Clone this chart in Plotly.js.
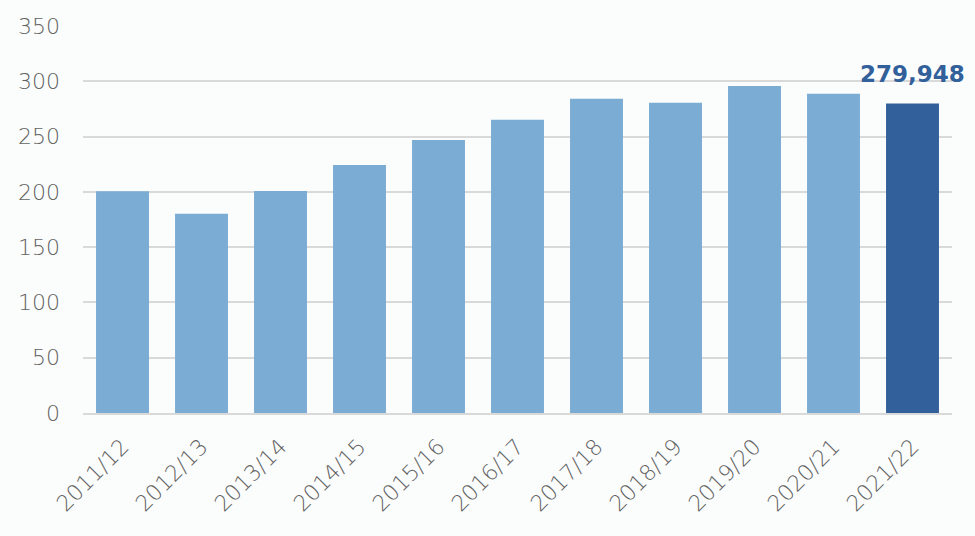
<!DOCTYPE html>
<html>
<head>
<meta charset="utf-8">
<script src="https://cdn.plot.ly/plotly-3.0.1.min.js"></script>
<style>html,body{margin:0;padding:0;background:#fbfdfd;overflow:hidden;}#chart{width:975px;height:536px;}</style>
</head>
<body>
<div id="chart"></div>
<script>
var categories = ["2011/12","2012/13","2013/14","2014/15","2015/16","2016/17","2017/18","2018/19","2019/20","2020/21","2021/22"];
var values = [200.6, 180.2, 200.8, 224.3, 247.0, 265.2, 284.3, 280.6, 295.8, 288.8, 279.948];
var highlightLabel = "279,948";
var yTicks = [0, 50, 100, 150, 200, 250, 300, 350];

var lightBlue = "#7aacd4", darkBlue = "#31609a";
var colors = categories.map(function(c, i){ return i === categories.length - 1 ? darkBlue : lightBlue; });
var last = categories.length - 1;

var trace = {
  type: "bar",
  x: categories,
  y: values,
  marker: {color: colors},
  hoverinfo: "x+y"
};

var tickFont = {family: "DejaVu Sans, sans-serif", size: 22, color: "#626262", weight: 200};

var layout = {
  width: 975, height: 536,
  margin: {l: 83, r: 23, t: 26, b: 123, pad: 0},
  paper_bgcolor: "#fbfdfd",
  plot_bgcolor: "#fbfdfd",
  bargap: 0.33,
  showlegend: false,
  font: {family: "DejaVu Sans, sans-serif", color: "#626262", size: 22},
  xaxis: {
    type: "category",
    automargin: false,
    range: [-0.5, categories.length - 0.5],
    tickangle: -45,
    showgrid: false,
    showline: true,
    linecolor: "#d9d9d9",
    linewidth: 2,
    ticks: "",
    ticklabelstandoff: 10,
    tickfont: tickFont
  },
  yaxis: {
    automargin: false,
    range: [0, 350],
    tickvals: yTicks,
    showgrid: true,
    gridcolor: "#d9d9d9",
    gridwidth: 2,
    zeroline: false,
    showline: false,
    ticks: "",
    ticklabelstandoff: 22,
    tickfont: tickFont
  },
  annotations: [{
    x: categories[last], y: values[last],
    xref: "x", yref: "y",
    text: highlightLabel,
    showarrow: false,
    yanchor: "bottom",
    yshift: 14,
    font: {family: "DejaVu Sans, sans-serif", size: 23, color: darkBlue, weight: "bold"}
  }]
};

Plotly.newPlot("chart", [trace], layout, {displayModeBar: false, staticPlot: true});
</script>
</body>
</html>
